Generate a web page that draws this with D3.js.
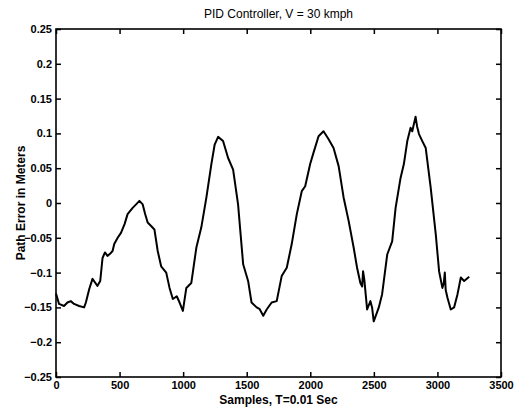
<!DOCTYPE html>
<html>
<head>
<meta charset="utf-8">
<script src="https://cdn.jsdelivr.net/npm/d3@7"></script>
<style>
  body { margin: 0; background: #fff; }
  svg { display: block; font-family: "Liberation Sans", Arial, Helvetica, sans-serif; }
</style>
</head>
<body>
<div id="chart"></div>
<script>
// samples (T = 0.01 s) and path error in metres
var samples = [0, 24, 63, 90, 116, 142, 182, 221, 235, 261, 287, 310, 326, 348, 366, 385, 405, 425, 445, 458,
  485, 511, 540, 563, 603, 630, 656, 682, 700, 721, 748, 774, 800, 827, 867, 893, 919, 950, 972, 998,
  1025, 1064, 1104, 1143, 1183, 1222, 1248, 1275, 1314, 1353, 1393, 1432, 1452, 1472, 1511, 1538, 1578, 1600, 1630, 1657,
  1696, 1736, 1775, 1815, 1854, 1894, 1933, 1960, 1999, 2025, 2065, 2104, 2143, 2183, 2223, 2262, 2302, 2341, 2368, 2394,
  2408, 2415, 2425, 2433, 2447, 2473, 2486, 2499, 2539, 2565, 2605, 2644, 2671, 2710, 2736, 2763, 2789, 2802, 2828, 2840,
  2855, 2881, 2908, 2947, 2987, 3013, 3039, 3050, 3058, 3065, 3079, 3105, 3131, 3158, 3184, 3210, 3250];
var pathError = [-0.130, -0.145, -0.148, -0.143, -0.141, -0.145, -0.148, -0.150, -0.143, -0.124, -0.109, -0.115, -0.119, -0.112, -0.079, -0.071, -0.076, -0.073, -0.069, -0.059,
  -0.050, -0.043, -0.030, -0.016, -0.007, -0.002, 0.003, -0.002, -0.015, -0.028, -0.033, -0.038, -0.069, -0.091, -0.100, -0.122, -0.138, -0.134, -0.143, -0.155,
  -0.122, -0.115, -0.064, -0.035, 0.008, 0.056, 0.084, 0.095, 0.089, 0.065, 0.048, -0.002, -0.045, -0.088, -0.112, -0.143, -0.150, -0.152, -0.162, -0.153,
  -0.143, -0.141, -0.105, -0.093, -0.059, -0.016, 0.017, 0.024, 0.056, 0.072, 0.096, 0.103, 0.092, 0.079, 0.053, 0.008, -0.026, -0.064, -0.093, -0.115,
  -0.120, -0.098, -0.110, -0.126, -0.153, -0.141, -0.150, -0.170, -0.150, -0.131, -0.074, -0.055, -0.007, 0.036, 0.056, 0.089, 0.108, 0.103, 0.124, 0.110,
  0.099, 0.089, 0.079, 0.022, -0.045, -0.098, -0.122, -0.115, -0.100, -0.125, -0.136, -0.153, -0.150, -0.131, -0.107, -0.112, -0.106];

var xTicks = [0, 500, 1000, 1500, 2000, 2500, 3000, 3500];
var yTicks = [-0.25, -0.2, -0.15, -0.1, -0.05, 0, 0.05, 0.1, 0.15, 0.2, 0.25];

var w_width = 522, w_height = 410;
var margin = {top: 29, right: 21, bottom: 33, left: 56};
var pw = w_width - margin.left - margin.right;
var ph = w_height - margin.top - margin.bottom;

var svg = d3.select('#chart').append('svg')
  .attr('width', w_width).attr('height', w_height);

var g = svg.append('g').attr('transform', 'translate(' + margin.left + ',' + margin.top + ')');

var x = d3.scaleLinear().domain([0, 3500]).range([0, pw]);
var y = d3.scaleLinear().domain([-0.25, 0.25]).range([ph, 0]);

// inward ticks on all four sides, matlab style
var tl = 5;
g.append('g').attr('class', 'xaxis').attr('transform', 'translate(0,' + ph + ')')
  .call(d3.axisBottom(x).tickValues(xTicks).tickSize(-tl).tickPadding(4).tickFormat(d3.format('d')));
g.append('g').attr('class', 'xaxis')
  .call(d3.axisTop(x).tickValues(xTicks).tickSize(-tl).tickFormat(''));
g.append('g').attr('class', 'yaxis')
  .call(d3.axisLeft(y).tickValues(yTicks).tickSize(-tl).tickPadding(4).tickFormat(function(d){ return d3.format('')(+d.toFixed(2)); }));
g.append('g').attr('class', 'yaxis').attr('transform', 'translate(' + pw + ',0)')
  .call(d3.axisRight(y).tickValues(yTicks).tickSize(-tl).tickFormat(''));

g.selectAll('.domain').remove();
g.selectAll('.tick line').attr('stroke', '#000').attr('stroke-width', 1.5);
g.selectAll('.tick text').attr('fill', '#000').attr('font-size', '11px').attr('font-weight', 'bold')
  .attr('font-family', '"Liberation Sans", Arial, sans-serif');

g.append('rect').attr('x', 0).attr('y', 0).attr('width', pw).attr('height', ph)
  .attr('fill', 'none').attr('stroke', '#000').attr('stroke-width', 1.6);

var line = d3.line()
  .x(function(d, i){ return x(samples[i]); })
  .y(function(d){ return y(d); });

g.append('path').datum(pathError)
  .attr('fill', 'none').attr('stroke', '#000').attr('stroke-width', 2)
  .attr('stroke-linejoin', 'round')
  .attr('d', line);

svg.append('text').attr('class', 'label').attr('fill', 'black')
  .attr('x', margin.left + pw / 2).attr('y', 18).attr('text-anchor', 'middle')
  .attr('font-size', '12px')
  .text('PID Controller, V = 30 kmph');

svg.append('text').attr('class', 'label').attr('fill', 'black')
  .attr('x', margin.left + pw / 2).attr('y', 404).attr('text-anchor', 'middle')
  .attr('font-size', '12px').attr('font-weight', 'bold')
  .text('Samples, T=0.01 Sec');

svg.append('text').attr('class', 'label').attr('fill', 'black')
  .attr('transform', 'translate(25,' + (margin.top + ph / 2) + ') rotate(-90)')
  .attr('text-anchor', 'middle')
  .attr('font-size', '12px').attr('font-weight', 'bold')
  .text('Path Error in Meters');
</script>
</body>
</html>
